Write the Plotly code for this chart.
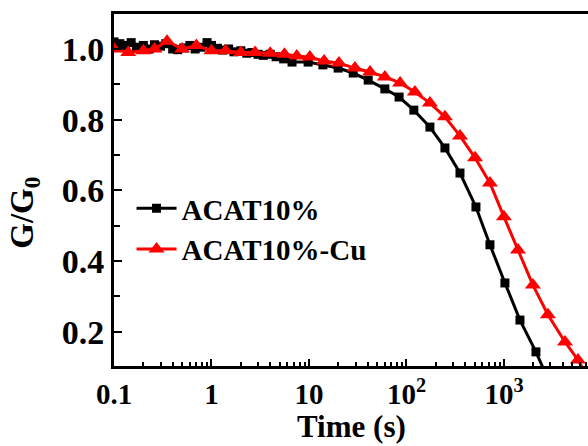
import plotly.graph_objects as go

# ---- data ----
t_black = [0.1, 0.115, 0.13, 0.15, 0.17, 0.2, 0.23, 0.26, 0.3, 0.34, 0.4, 0.45, 0.52,
           0.6, 0.68, 0.78, 0.9, 1.0, 1.15, 1.3, 1.5, 1.7, 2.0, 2.3, 2.6, 3.0, 3.4,
           4.0, 4.6, 5.5, 6.7, 9.8, 13.9, 19.9, 28.4, 40.5, 60, 84, 119, 174, 248,
           354, 516, 718, 1023, 1459, 2128, 3000]
g_black = [1.02, 1.015, 1.01, 1.018, 1.005, 1.01, 1.0, 1.012, 1.008, 1.015, 1.0, 0.998,
           1.003, 1.01, 1.0, 1.005, 1.018, 1.01, 1.002, 0.997, 1.0, 0.992, 0.995, 0.988,
           0.99, 0.985, 0.982, 0.985, 0.978, 0.972, 0.963, 0.963, 0.955, 0.946, 0.932,
           0.912, 0.887, 0.864, 0.827, 0.779, 0.720, 0.649, 0.553, 0.446, 0.338, 0.233,
           0.143, 0.05]

t_red = [0.1, 0.14, 0.2, 0.26, 0.35, 0.5, 0.7, 1.0, 1.4, 2.0, 2.8, 4.0, 5.6, 7.5,
         10.2, 14.3, 20.3, 29.6, 42.3, 60, 86, 122, 174, 248, 354, 505, 718, 1000,
         1393, 1982, 2825, 4227, 5743, 8000]
g_red = [1.0, 0.99, 0.995, 1.0, 1.022, 1.0, 1.01, 0.995, 0.995, 0.99, 0.99, 0.988,
         0.985, 0.98, 0.977, 0.966, 0.960, 0.946, 0.935, 0.921, 0.904, 0.878, 0.847,
         0.808, 0.754, 0.692, 0.621, 0.525, 0.431, 0.332, 0.248, 0.171, 0.120, 0.05]

x_tickvals = [0.1, 1, 10, 100, 1000]
x_ticktext = ["0.1", "1", "10", "10<sup>2</sup>", "10<sup>3</sup>"]
x_minorvals = [m * d for d in [0.1, 1, 10, 100, 1000] for m in range(2, 10)]

FONT = "Liberation Serif"

fig = go.Figure()
fig.add_trace(go.Scatter(
    x=t_black, y=g_black, mode="lines+markers", name="<b>ACAT10%</b>",
    line=dict(color="black", width=3),
    marker=dict(symbol="square", size=9, color="black"),
))
fig.add_trace(go.Scatter(
    x=t_red, y=g_red, mode="lines+markers", name="<b>ACAT10%-Cu</b>",
    line=dict(color="#ff0000", width=3),
    marker=dict(symbol="triangle-up", size=14, color="#ff0000"),
))

fig.update_layout(
    width=588, height=446,
    margin=dict(l=114, r=0, t=14, b=80),
    paper_bgcolor="white", plot_bgcolor="white",
    font=dict(family=FONT, color="black"),
    showlegend=True,
    legend=dict(x=0.037, y=0.52, xanchor="left", yanchor="top",
                font=dict(family=FONT, size=29, color="black"),
                bgcolor="rgba(0,0,0,0)", tracegroupgap=0, itemwidth=40),
    xaxis=dict(
        type="log", range=[-1, 3.862],
        tickmode="array", tickvals=x_tickvals, ticktext=x_ticktext,
        tickfont=dict(family=FONT, size=29, color="black", weight="bold"),
        ticks="inside", ticklen=7, tickwidth=2, tickcolor="black",
        minor=dict(tickmode="array", tickvals=x_minorvals, ticks="inside", ticklen=4,
                   tickwidth=2, tickcolor="black", showgrid=False),
        showline=True, linecolor="black", linewidth=3, mirror=True,
        showgrid=False, zeroline=False,
    ),
    yaxis=dict(
        range=[0.103, 1.099],
        tick0=0.2, dtick=0.2, tickformat=".1f",
        tickfont=dict(family=FONT, size=34, color="black", weight="bold"),
        ticks="inside", ticklen=8, tickwidth=2, tickcolor="black",
        minor=dict(dtick=0.1, ticks="inside", ticklen=6, tickwidth=2, tickcolor="black", showgrid=False),
        showline=True, linecolor="black", linewidth=3, mirror=False,
        showgrid=False, zeroline=False,
    ),
    annotations=[
        dict(text="<b>G/G<sub>0</sub></b>", textangle=-90,
             xref="paper", yref="paper", x=-0.188, y=0.435,
             xanchor="center", yanchor="middle", showarrow=False,
             font=dict(family=FONT, size=33, color="black")),
        dict(text="<b>Time (s)</b>",
             xref="paper", yref="paper", x=0.5, y=-0.226,
             xanchor="center", yanchor="bottom", showarrow=False,
             font=dict(family=FONT, size=31, color="black")),
    ],
)

fig.write_html("out.html")
